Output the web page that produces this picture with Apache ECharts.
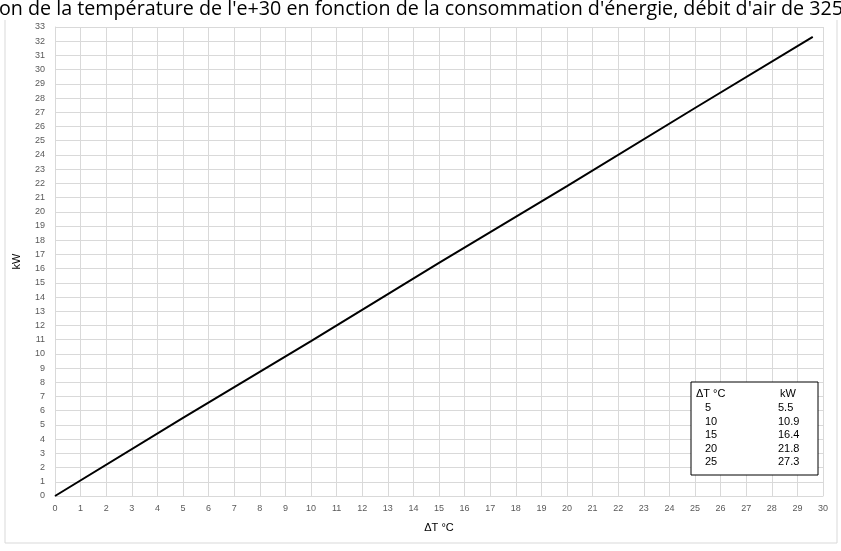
<!DOCTYPE html>
<html>
<head>
<meta charset="utf-8">
<script src="https://cdn.jsdelivr.net/npm/echarts@6/dist/echarts.min.js"></script>
<style>
  html, body { margin: 0; padding: 0; background: #fff; }
  #main { width: 841px; height: 551px; }
</style>
</head>
<body>
<div id="main"></div>
<script>
// courbe ΔT -> kW
var dtValues = [0, 5, 10, 15, 20, 25, 29.6];
var kwValues = [0, 5.5, 10.9, 16.4, 21.8, 27.3, 32.3];

// petit tableau en bas a droite
var tableDT = ['5', '10', '15', '20', '25'];
var tableKW = ['5.5', '10.9', '16.4', '21.8', '27.3'];

var titleText = "on de la température de l'e+30 en fonction de la consommation d'énergie, débit d'air de 325";

var myChart = echarts.init(document.getElementById('main'));

var lineData = [];
for (var i = 0; i < dtValues.length; i++) {
    lineData.push([dtValues[i], kwValues[i]]);
}

var lbl = { fontFamily: 'Liberation Sans', fontSize: 9, color: '#595959' };
var tfont = '11px "Liberation Sans"';

var tableItems = [
    { type: 'rect', z: 100, shape: { x: 0, y: 0, width: 127, height: 93 },
      style: { fill: '#fff', stroke: '#000', lineWidth: 1 } },
    { type: 'text', z: 101, x: 5, y: 12, style: { text: 'ΔT °C', font: tfont, fill: '#000', verticalAlign: 'middle' } },
    { type: 'text', z: 101, x: 89, y: 12, style: { text: 'kW', font: tfont, fill: '#000', verticalAlign: 'middle' } }
];
for (var j = 0; j < tableDT.length; j++) {
    var ry = 26 + j * 13.6;
    tableItems.push({ type: 'text', z: 101, x: 14, y: ry,
        style: { text: tableDT[j], font: tfont, fill: '#000', verticalAlign: 'middle' } });
    tableItems.push({ type: 'text', z: 101, x: 87, y: ry,
        style: { text: tableKW[j], font: tfont, fill: '#000', verticalAlign: 'middle' } });
}

var option = {
    animation: false,
    backgroundColor: '#fff',
    grid: { left: 55, right: 18, top: 27, bottom: 55 },
    xAxis: {
        type: 'value',
        min: 0, max: 30, interval: 1,
        name: 'ΔT °C',
        nameLocation: 'middle',
        nameGap: 26,
        nameTextStyle: { fontFamily: 'Liberation Sans', fontSize: 11, color: '#000' },
        axisLine: { show: true, lineStyle: { color: '#d9d9d9' } },
        axisTick: { show: false },
        axisLabel: Object.assign({ margin: 8 }, lbl),
        splitLine: { show: true, lineStyle: { color: '#d9d9d9' } }
    },
    yAxis: {
        type: 'value',
        min: 0, max: 33, interval: 1,
        name: 'kW',
        nameLocation: 'middle',
        nameGap: 33,
        nameTextStyle: { fontFamily: 'Liberation Sans', fontSize: 11, color: '#000' },
        axisLine: { show: true, lineStyle: { color: '#d9d9d9' } },
        axisTick: { show: false },
        axisLabel: Object.assign({ margin: 10 }, lbl),
        splitLine: { show: true, lineStyle: { color: '#d9d9d9' } }
    },
    series: [{
        type: 'line',
        data: lineData,
        showSymbol: false,
        lineStyle: { color: '#000', width: 2 },
        z: 5
    }],
    graphic: [
        { type: 'rect', shape: { x: 5, y: -5, width: 832, height: 548 },
          style: { fill: 'none', stroke: '#d9d9d9', lineWidth: 1 }, z: -1 },
        { type: 'rect', shape: { x: 0, y: 0, width: 841, height: 20 },
          style: { fill: '#fff' }, z: 1 },
        { type: 'text', x: -1, y: 9, z: 2,
          style: { text: titleText, font: '19.7px "Open Sans"', fill: '#000', verticalAlign: 'middle' } },
        { type: 'group', x: 691, y: 382, z: 100, children: tableItems }
    ]
};

myChart.setOption(option);
</script>
</body>
</html>
